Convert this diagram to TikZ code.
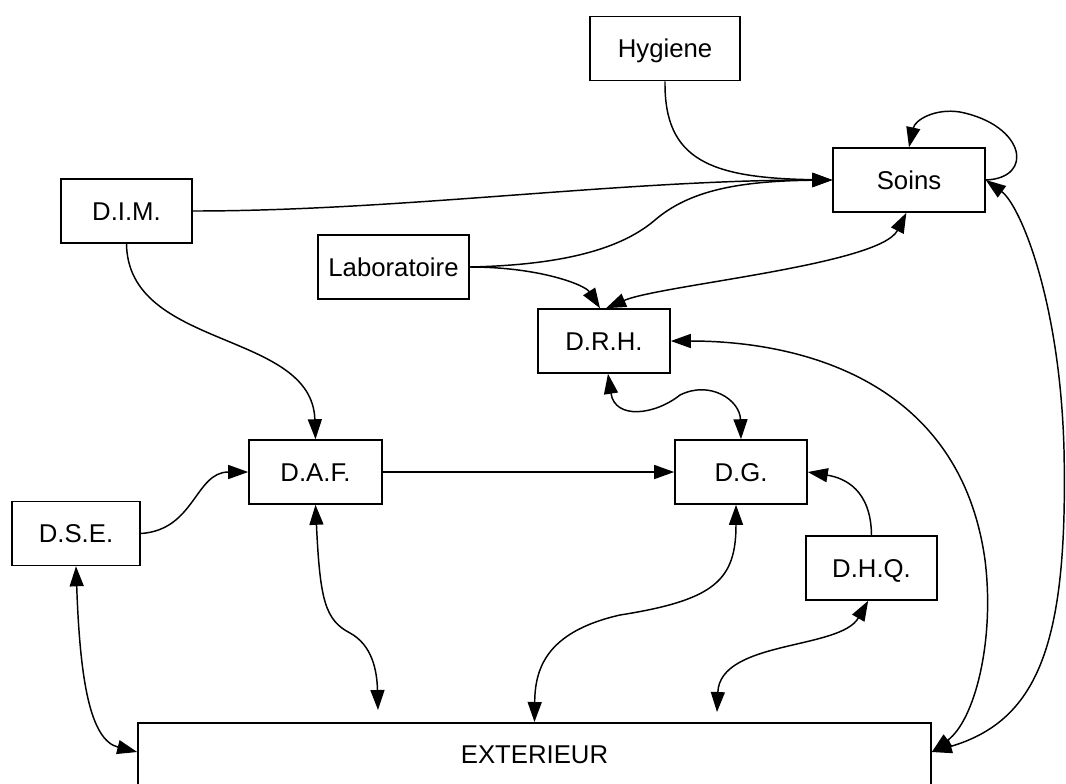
\documentclass[tikz,border=0pt]{standalone}
\usepackage{fontspec}
\setmainfont{Liberation Sans}
\usetikzlibrary{arrows.meta}
\begin{document}
\begin{tikzpicture}[x=0.75pt,y=-0.75pt,
  >={Triangle[length=15pt,width=10.5pt]},
  box/.style={draw, line width=1.2pt, minimum height=48pt, inner sep=0pt,
    text height=13.8pt, text depth=0pt, font=\fontsize{19.3}{23}\selectfont},
  conn/.style={line width=1.1pt}]
\fill[white] (0,0) rectangle (1066,783);
\useasboundingbox (0,0) rectangle (1066,783);
\clip (0,0) rectangle (1066,783);

% nodes
\node[box, minimum width=112.5pt] (hyg) at (665,48.5) {Hygiene};
\node[box, minimum width=114pt] (soins) at (909,180) {Soins};
\node[box, minimum width=98.25pt] (dim) at (126.5,211) {D.I.M.};
\node[box, minimum width=113.25pt] (lab) at (393.5,267) {Laboratoire};
\node[box, minimum width=99pt] (drh) at (604,341) {D.R.H.};
\node[box, minimum width=99.75pt] (daf) at (315.5,472) {D.A.F.};
\node[box, minimum width=96pt] (dse) at (76,533.5) {D.S.E.};
\node[box, minimum width=99pt] (dg) at (741,472) {D.G.};
\node[box, minimum width=98.25pt] (dhq) at (871.5,568) {D.H.Q.};
\node[draw, line width=1.2pt, anchor=north, minimum width=594.75pt, inner ysep=0pt,
  text height=30.75pt, text depth=60pt, font=\fontsize{19.3}{23}\selectfont]
  (ext) at (534.5,722) {EXTERIEUR};

\coordinate (dafx) at (378,710);
\coordinate (dhqx) at (717,712);

% connectors
\draw[conn,->] (hyg.south) .. controls (664,160) and (710,178) .. (soins.west);
\draw[conn,->] (dim.east) .. controls (400,211) and (620,180) .. (soins.west);
\draw[conn,->] (lab.east) .. controls (560,265) and (620,250) .. (655,220)
  .. controls (690,190) and (740,181) .. (soins.west);
\draw[conn,->] (lab.east) .. controls (540,267) and (585,285) .. ([xshift=-3pt]drh.north);
\draw[conn,<->] ([xshift=1.5pt]drh.north) .. controls (660,285) and (880,265) .. ([xshift=-2pt]soins.south);
\draw[conn,->] (soins.east) .. controls (1035,178) and (1025,125) .. (960,112)
  .. controls (935,108) and (915,120) .. (soins.north);
\draw[conn,<->] (soins.east) .. controls (1020,205) and (1060,300) .. (1064,450)
  .. controls (1068,640) and (1040,720) .. ([yshift=-22.5pt]ext.north east);
\draw[conn,<->] (drh.east) .. controls (800,341) and (960,380) .. (985,560)
  .. controls (995,640) and (975,720) .. ([yshift=-22.5pt]ext.north east);
\draw[conn,<->] ([xshift=3pt]drh.south) .. controls (615,420) and (655,415) .. (680,395)
  .. controls (710,380) and (740,400) .. (dg.north);
\draw[conn,->] (dim.south) .. controls (128,350) and (312,330) .. (daf.north);
\draw[conn,->] (dse.east) .. controls (195,530) and (195,472) .. (daf.west);
\draw[conn,->] (daf.east) -- (dg.west);
\draw[conn,<->] (daf.south) .. controls (320,600) and (325,620) .. (350,633)
  .. controls (372,645) and (377,670) .. (dafx);
\draw[conn,<->] (dse.south) .. controls (80,680) and (90,740) .. ([yshift=-22.5pt]ext.north west);
\draw[conn,<->] ([xshift=-3.75pt]dg.south) .. controls (736,580) and (715,600) .. (620,615)
  .. controls (545,632) and (535,670) .. (ext.north);
\draw[conn,->] (dhq.north) .. controls (871,490) and (845,478) .. (dg.east);
\draw[conn,<->] ([xshift=-2.5pt]dhq.south) .. controls (840,650) and (720,640) .. (dhqx);
\end{tikzpicture}
\end{document}
